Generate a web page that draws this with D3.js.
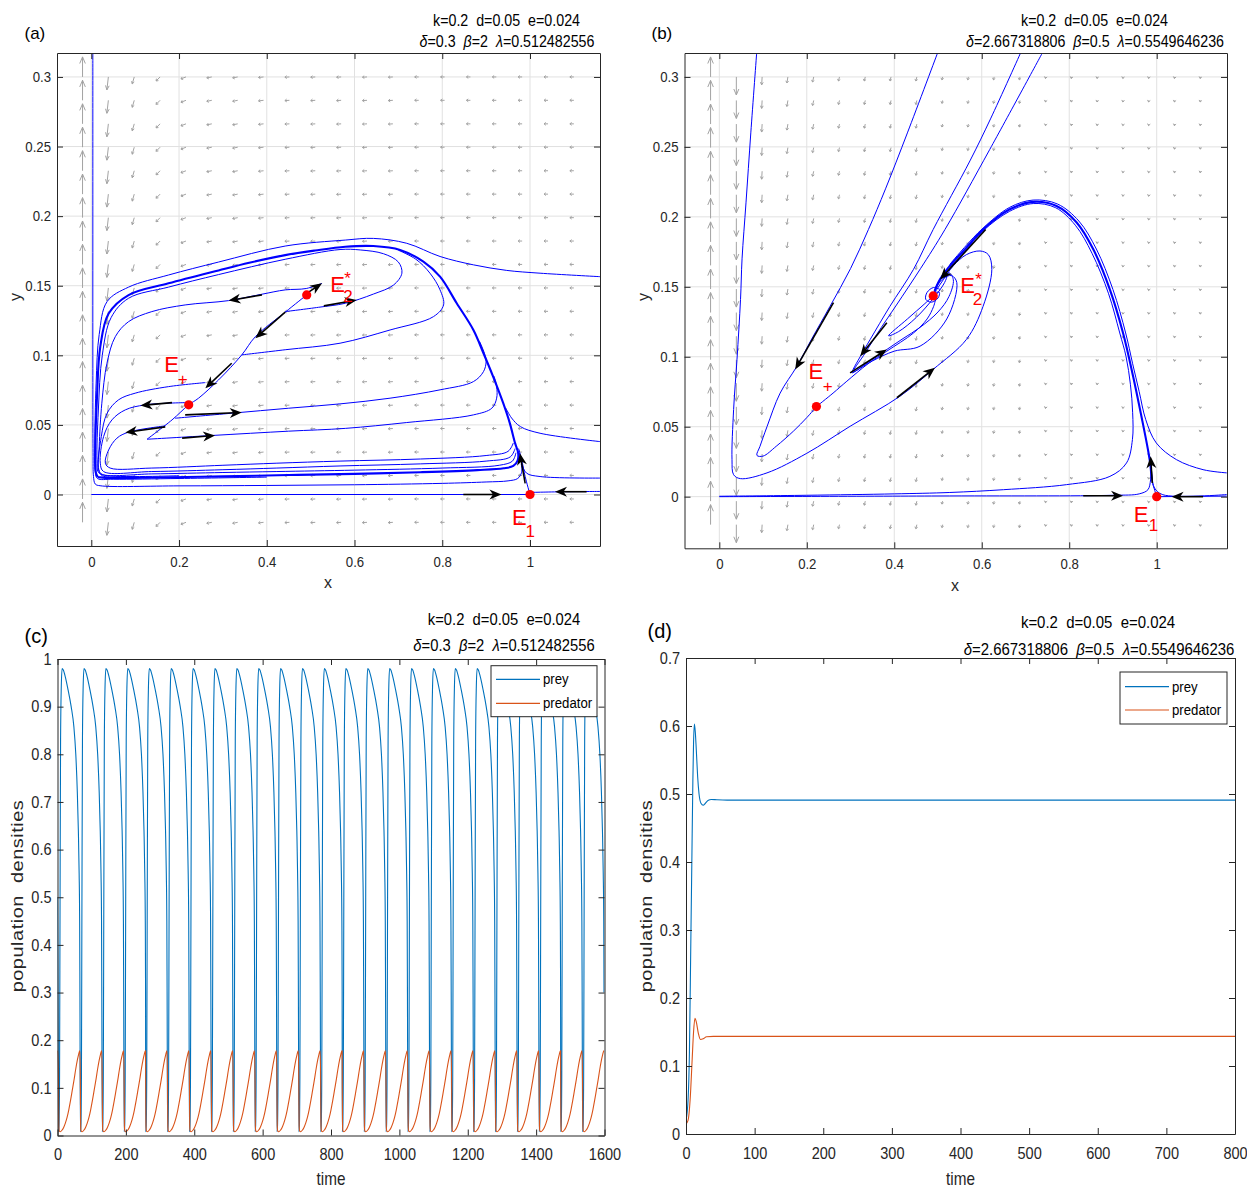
<!DOCTYPE html>
<html><head><meta charset="utf-8">
<script src="https://cdn.jsdelivr.net/npm/d3@7"></script>
<style>
body{margin:0;background:#fff;}
text{font-family:"Liberation Sans",Arial,Helvetica,sans-serif;}
</style></head><body>
<svg id="chart" width="1247" height="1192"></svg>
<script>
// ================= DATA =================
// phase-plane ticks (panels a, b)
const phaseXTicks = [0, 0.2, 0.4, 0.6, 0.8, 1];
const phaseXTickLabels = ["0", "0.2", "0.4", "0.6", "0.8", "1"];
const phaseYTicks = [0, 0.05, 0.1, 0.15, 0.2, 0.25, 0.3];
const phaseYTickLabels = ["0", "0.05", "0.1", "0.15", "0.2", "0.25", "0.3"];

// direction-field grid
const fieldX = [-0.02, 0.0389, 0.0979, 0.1568, 0.2158, 0.2747, 0.3337, 0.3926, 0.4516, 0.5105, 0.5695, 0.6284, 0.6874, 0.7463, 0.8053, 0.8642, 0.9232, 0.9821, 1.0411, 1.1];
const fieldY = [-0.02, -0.0032, 0.0137, 0.0305, 0.0474, 0.0642, 0.0811, 0.0979, 0.1147, 0.1316, 0.1484, 0.1653, 0.1821, 0.1989, 0.2158, 0.2326, 0.2495, 0.2663, 0.2832, 0.3];
// per-column arrow components (panel a)
const fieldUa = [0, -0.0034, -0.0046, -0.0091, -0.0114, -0.0114, -0.0114, -0.0114, -0.0103, -0.0103, -0.0103, -0.0103, -0.0103, -0.0091, -0.0091, -0.0091, -0.0091, -0.0091, -0.0091, -0.0091];
const fieldVa = [0.0144, -0.0093, -0.005, -0.0029, -0.0014, -0.0007, -0.0007, -0.0004, -0.0002, -0.0002, -0.0002, -0.0002, -0.0002, 0, 0, 0, 0, 0, 0, 0];
// per-column arrow components (panel b)
const fieldUb = [0, 0, -0.0011, -0.0023, -0.0027, -0.0023, -0.0023, -0.0023, -0.0023, -0.0016, -0.0016, -0.0016, -0.0016, -0.0007, -0.0007, -0.0007, -0.0007, -0.0007, -0.0007, -0.0007];
const fieldVb = [0.0143, -0.0129, -0.0057, -0.0043, -0.0036, -0.0029, -0.0029, -0.0029, -0.0029, -0.0021, -0.0021, -0.0021, -0.0021, -0.0011, -0.0011, -0.0011, -0.0011, -0.0011, -0.0011, -0.0011];

// equilibria
const eqPlus = [0.222, 0.0644];
const eqStar = [0.491, 0.1434];
const eqStarB = [0.489, 0.1435];
const eqOne = [1, 0];

// ---- panel (a) trajectories ----
const aAxisLine = [[0, 0], [1, 0]];
const aRightIn = [[1.16, 0.0022], [1.08, 0.002], [1.0, 0.0015]];
const aLeftEdge = [[0.0035, 0.3172], [0.0035, 0.2], [0.0035, 0.1], [0.004, 0.03], [0.005, 0.013], [0.009, 0.0075], [0.02, 0.0063], [0.2, 0.0062], [0.4, 0.0065], [0.6, 0.007], [0.8, 0.008], [0.9, 0.009], [0.95, 0.0098], [0.972, 0.0115], [0.981, 0.016], [0.98, 0.022]];
const aCycle = [[0.015, 0.0125], [0.047, 0.0118], [0.15, 0.0122], [0.3, 0.013], [0.45, 0.014], [0.6, 0.0148], [0.75, 0.016], [0.88, 0.0175], [0.94, 0.0188], [0.962, 0.0205], [0.972, 0.0245], [0.973, 0.03], [0.966, 0.0369], [0.954, 0.0513], [0.939, 0.0656], [0.916, 0.0847], [0.894, 0.1015], [0.871, 0.1182], [0.833, 0.1374], [0.795, 0.1565], [0.757, 0.1673], [0.704, 0.1757], [0.643, 0.1785], [0.579, 0.178], [0.51, 0.1753], [0.442, 0.172], [0.36, 0.1665], [0.29, 0.161], [0.176, 0.1517], [0.085, 0.1433], [0.0395, 0.13], [0.0205, 0.1062], [0.013, 0.0703], [0.009, 0.0225], [0.011, 0.015], [0.015, 0.0125]];
const aOuter = [[1.16, 0.1565], [1.023, 0.159], [0.947, 0.161], [0.871, 0.165], [0.795, 0.171], [0.719, 0.1805], [0.643, 0.184], [0.579, 0.1828], [0.442, 0.1785], [0.29, 0.167], [0.176, 0.1577], [0.085, 0.149], [0.036, 0.1386], [0.018, 0.115], [0.011, 0.08], [0.008, 0.035], [0.009, 0.016], [0.014, 0.0115], [0.05, 0.011], [0.2, 0.0115], [0.4, 0.0125]];
const aD = [[0.442, 0.1314], [0.518, 0.1345], [0.579, 0.1374], [0.643, 0.144], [0.689, 0.1505], [0.708, 0.159], [0.7, 0.167], [0.666, 0.173], [0.613, 0.1757], [0.567, 0.176], [0.442, 0.169], [0.29, 0.158], [0.176, 0.149], [0.085, 0.141], [0.045, 0.127], [0.025, 0.1], [0.016, 0.06], [0.013, 0.025], [0.016, 0.016], [0.03, 0.0138], [0.2, 0.0135]];
const aE = [[0.343, 0.1003], [0.442, 0.104], [0.567, 0.1087], [0.681, 0.1182], [0.78, 0.1278], [0.803, 0.1362], [0.795, 0.147], [0.772, 0.159], [0.74, 0.169], [0.7, 0.1755]];
const aF = [[0.191, 0.0548], [0.32, 0.0584], [0.45, 0.062], [0.567, 0.0651], [0.681, 0.0692], [0.795, 0.0752], [0.871, 0.0811], [0.894, 0.0883], [0.9, 0.0955], [0.896, 0.1015], [0.885, 0.11]];
const aG = [[0.127, 0.0397], [0.275, 0.0424], [0.45, 0.0455], [0.579, 0.0475], [0.719, 0.0517], [0.871, 0.0572], [0.913, 0.062], [0.924, 0.0692], [0.924, 0.0775], [0.918, 0.085]];
const aH = [[1.16, 0.038], [1.023, 0.044], [0.978, 0.0488], [0.958, 0.055], [0.945, 0.062]];
const aI = [[1.16, 0.0118], [1.023, 0.0129], [0.992, 0.0154], [0.981, 0.0225], [0.976, 0.03]];
const aJ = [[1.0, 0.0], [0.989, 0.0129], [0.981, 0.025], [0.974, 0.033]];
const aSep = [[0.491, 0.1434], [0.442, 0.131], [0.374, 0.1134], [0.343, 0.1003], [0.29, 0.0823], [0.2445, 0.0692], [0.222, 0.0644], [0.184, 0.0536], [0.127, 0.0397]];
const aM = [[0.1686, 0.0493], [0.085, 0.0448], [0.0585, 0.0405], [0.0395, 0.032], [0.032, 0.0225], [0.043, 0.019], [0.138, 0.019], [0.3, 0.021], [0.423, 0.0225], [0.567, 0.024], [0.75, 0.0255], [0.9, 0.028], [0.95, 0.031], [0.962, 0.037]];
const aN = [[0.215, 0.066], [0.123, 0.0644], [0.0775, 0.0608], [0.047, 0.0536], [0.028, 0.0416], [0.0205, 0.0225], [0.028, 0.0165], [0.138, 0.0165], [0.3, 0.0178], [0.423, 0.019], [0.567, 0.0205], [0.75, 0.022], [0.9, 0.024], [0.955, 0.027], [0.966, 0.033]];
const aP = [[0.26, 0.0804], [0.176, 0.0775], [0.1, 0.0728], [0.062, 0.068], [0.036, 0.0584], [0.0228, 0.0416], [0.0167, 0.0177], [0.025, 0.0145], [0.138, 0.0148], [0.3, 0.0158], [0.423, 0.0165], [0.6, 0.0175], [0.8, 0.019], [0.93, 0.021], [0.96, 0.024], [0.968, 0.03]];
const aQ = [[0.526, 0.1517], [0.49, 0.148], [0.442, 0.147], [0.389, 0.1439], [0.313, 0.1393], [0.214, 0.1362], [0.138, 0.1314], [0.085, 0.1242], [0.0547, 0.1134], [0.0357, 0.0943], [0.024, 0.0656], [0.018, 0.0345], [0.017, 0.018], [0.025, 0.0135], [0.1, 0.0132]];
// direction arrows (tail x, tail y, tip x, tip y)
const aArrows = [
  [0.389, 0.1434, 0.313, 0.1393], [0.491, 0.1445, 0.526, 0.1517], [0.53, 0.1355, 0.605, 0.1397],
  [0.442, 0.131, 0.374, 0.1123], [0.32, 0.0943, 0.26, 0.0764], [0.184, 0.066, 0.112, 0.0639],
  [0.214, 0.0572, 0.343, 0.0589], [0.1686, 0.0486, 0.0775, 0.0445], [0.207, 0.0405, 0.282, 0.0424],
  [0.848, 0, 0.935, 0], [1.129, 0.002, 1.057, 0.002], [0.989, 0.008, 0.977, 0.0297]
];

// ---- panel (b) trajectories ----
const bB1 = [[0.0856, 0.318], [0.072, 0.26], [0.061, 0.21], [0.052, 0.17], [0.0485, 0.141], [0.0404, 0.098], [0.0327, 0.0623], [0.029, 0.0265], [0.0327, 0.0157], [0.048, 0.0129], [0.109, 0.017], [0.2, 0.031], [0.299, 0.0503], [0.413, 0.0718], [0.489, 0.091], [0.565, 0.1124], [0.603, 0.136], [0.623, 0.1625], [0.615, 0.173], [0.596, 0.1756], [0.565, 0.173], [0.535, 0.165], [0.512, 0.155], [0.497, 0.148], [0.489, 0.1435]];
const bB2 = [[0.5, 0.318], [0.43, 0.26], [0.38, 0.22], [0.341, 0.191], [0.3, 0.163], [0.253, 0.136], [0.21, 0.112], [0.177, 0.093], [0.139, 0.074], [0.109, 0.05], [0.093, 0.036], [0.086, 0.0295], [0.1, 0.029], [0.13, 0.036], [0.17, 0.047], [0.2, 0.0565], [0.222, 0.0644]];
const bB3a = [[0.69, 0.318], [0.62, 0.27], [0.573, 0.24], [0.489, 0.191], [0.444, 0.1625], [0.39, 0.136], [0.345, 0.1124], [0.322, 0.1], [0.306, 0.091], [0.303, 0.0885], [0.34, 0.096], [0.383, 0.1052], [0.42, 0.113], [0.459, 0.121], [0.5, 0.132], [0.525, 0.143], [0.535, 0.155], [0.525, 0.16], [0.505, 0.155], [0.489, 0.1435]];
const bB3b = [[0.74, 0.318], [0.618, 0.248], [0.516, 0.191], [0.46, 0.163], [0.405, 0.137], [0.36, 0.116], [0.33, 0.101], [0.31, 0.092], [0.305, 0.089], [0.35, 0.097], [0.4, 0.104], [0.459, 0.1076], [0.52, 0.127], [0.543, 0.153], [0.531, 0.158], [0.512, 0.156], [0.497, 0.15], [0.489, 0.1435]];
const bB4 = [[0.222, 0.0644], [0.26, 0.074], [0.2915, 0.0825], [0.34, 0.095], [0.383, 0.104], [0.444, 0.117], [0.475, 0.127], [0.49, 0.136], [0.495, 0.142]];
const bB5 = [[0.489, 0.1435], [0.47, 0.138], [0.43, 0.127], [0.387, 0.115], [0.41, 0.118], [0.45, 0.128], [0.49, 0.142], [0.515, 0.153], [0.52, 0.158], [0.51, 0.157], [0.495, 0.15]];
const bSpiral = [[0.505, 0.148], [0.49, 0.1495], [0.475, 0.146], [0.472, 0.141], [0.485, 0.139], [0.5, 0.142], [0.503, 0.146], [0.49, 0.1455], [0.48, 0.143], [0.489, 0.1435]];
const bArch = [[0.988, 0.0122], [0.986, 0.0217], [0.98, 0.0336], [0.965, 0.0575], [0.946, 0.0861], [0.923, 0.117], [0.893, 0.148], [0.855, 0.1768], [0.817, 0.196], [0.771, 0.2078], [0.7176, 0.2107], [0.664, 0.2054], [0.603, 0.191], [0.565, 0.178], [0.527, 0.165], [0.5046, 0.1553], [0.492, 0.147]];
const bArchLeft = [[0, 0.0003], [0.2, 0.001], [0.4, 0.002], [0.527, 0.003], [0.65, 0.005], [0.794, 0.0086], [0.893, 0.0145], [0.931, 0.0241], [0.9445, 0.0408], [0.945, 0.06], [0.94, 0.08], [0.93, 0.1], [0.9155, 0.117], [0.89, 0.145], [0.852, 0.174], [0.814, 0.194], [0.769, 0.2065], [0.7176, 0.2095], [0.664, 0.204], [0.603, 0.19], [0.56, 0.175], [0.527, 0.164]];
const bArchRight = [[1.16, 0.017], [1.106, 0.0193], [1.045, 0.0265], [0.999, 0.0384], [0.975, 0.055], [0.96, 0.075], [0.945, 0.095], [0.929, 0.117], [0.9, 0.148], [0.862, 0.177], [0.822, 0.197], [0.773, 0.2092], [0.7176, 0.212], [0.664, 0.2068], [0.603, 0.192], [0.56, 0.178], [0.527, 0.166]];
const bBottom = [[0, 0], [0.5, 0.0005], [0.9, 0.001], [0.96, 0.002], [0.98, 0.005], [0.986, 0.012], [0.988, 0.02]];
const bRightIn = [[1.16, 0.0015], [1.014, 0.0014], [0.995, 0.0062], [0.989, 0.0145], [0.987, 0.022]];
const bRightAxis = [[1.16, 0.0004], [1.0, 0]];
const bE1Up = [[1.0, 0], [0.992, 0.008], [0.988, 0.0122]];
const bArrows = [
  [0.261, 0.1387, 0.1735, 0.0909], [0.383, 0.1243, 0.322, 0.1004], [0.299, 0.0885, 0.383, 0.1052],
  [0.406, 0.0707, 0.493, 0.0921], [0.609, 0.191, 0.5046, 0.1553], [0.99, 0.0098, 0.986, 0.0289],
  [0.832, 0.0007, 0.923, 0.0007], [1.106, 0, 1.034, 0]
];

// parameter annotations
const paramLine1 = [["k=0.2  d=0.05  e=0.024", 0]];
const paramLine2A = [["δ", 1], ["=0.3  ", 0], ["β", 1], ["=2  ", 0], ["λ", 1], ["=0.512482556", 0]];
const paramLine2B = [["δ", 1], ["=2.667318806  ", 0], ["β", 1], ["=0.5  ", 0], ["λ", 1], ["=0.5549646236", 0]];

// ---- panel (c) time series ----
const timeTicksC = [0, 200, 400, 600, 800, 1000, 1200, 1400, 1600];
const densTicksC = [0, 0.1, 0.2, 0.3, 0.4, 0.5, 0.6, 0.7, 0.8, 0.9, 1];
const densLabelsC = ["0", "0.1", "0.2", "0.3", "0.4", "0.5", "0.6", "0.7", "0.8", "0.9", "1"];
const crashTimesC = [3, 67, 131, 195, 258, 322, 386, 450, 514, 578, 642, 706, 770, 833, 897, 961, 1025, 1089, 1153, 1217, 1281, 1345, 1409, 1472, 1536];
const preyCycleC = [[0, 0.008], [1.5, 0.02], [3, 0.12], [4.5, 0.5], [6, 0.83], [8, 0.94], [10.5, 0.98], [14, 0.977], [20, 0.962], [28, 0.935], [37, 0.9], [45, 0.857], [50.5, 0.8], [55, 0.72], [58, 0.64], [60.3, 0.55], [61.8, 0.45], [62.6, 0.3]];
const predCycleC = [[0, 0.1], [0.8, 0.02], [2, 0.01], [5, 0.008], [10, 0.011], [15, 0.017], [20, 0.026], [25, 0.038], [30, 0.054], [35, 0.073], [40, 0.094], [45, 0.115], [50, 0.138], [55, 0.158], [59, 0.171], [61, 0.176], [62.6, 0.178]];
const preyStartC = [[0, 0.5], [1.5, 0.25]];
const predStartC = [[0, 0.178], [1.5, 0.16]];

// ---- panel (d) time series ----
const timeTicksD = [0, 100, 200, 300, 400, 500, 600, 700, 800];
const densTicksD = [0, 0.1, 0.2, 0.3, 0.4, 0.5, 0.6, 0.7];
const densLabelsD = ["0", "0.1", "0.2", "0.3", "0.4", "0.5", "0.6", "0.7"];
const preyD = [[0, 0.02], [3, 0.05], [5, 0.12], [7, 0.28], [8.5, 0.4], [10, 0.52], [11, 0.575], [12.2, 0.603], [13.5, 0.592], [15, 0.565], [17, 0.525], [19, 0.5], [22, 0.486], [25, 0.4835], [28, 0.486], [32, 0.4905], [37, 0.492], [45, 0.4915], [60, 0.491], [100, 0.491], [200, 0.491], [400, 0.491], [600, 0.491], [800, 0.491]];
const predD = [[0, 0.015], [3, 0.02], [6, 0.05], [9, 0.11], [11, 0.15], [13, 0.17], [15, 0.165], [18, 0.148], [21, 0.139], [25, 0.14], [30, 0.143], [40, 0.1435], [100, 0.1435], [400, 0.1435], [800, 0.1435]];

const seriesNames = ["prey", "predator"];

// ================= DRAWING =================
const svg = d3.select("#chart");
svg.append("rect").attr("width", 1247).attr("height", 1192).attr("fill", "#fff");
const defs = svg.append("defs");
const AX = "#262626";
const BLUE = "#0000ff";
const PREY = "#0072BD", PRED = "#D95319";

function addClip(id, L, R, T, B) {
  defs.append("clipPath").attr("id", id).append("rect")
    .attr("x", L).attr("y", T).attr("width", R - L).attr("height", B - T);
}
function squeeze(sel, sx) {
  sel.each(function () {
    const t = d3.select(this);
    const xx = +(t.attr("x") || 0);
    t.attr("x", xx / sx).attr("transform", `scale(${sx},1)`);
  });
}
function drawBox(g, x, y, L, R, T, B, xt, xl, yt, yl, fs, sx, padX, padY, tk) {
  const fx = d => xl[xt.indexOf(d)];
  const fy = d => yl[yt.indexOf(d)];
  const parts = [
    g.append("g").attr("transform", `translate(0,${B})`).call(d3.axisBottom(x).tickValues(xt).tickFormat(fx).tickSizeInner(-tk).tickSizeOuter(0).tickPadding(padX)),
    g.append("g").attr("transform", `translate(${L},0)`).call(d3.axisLeft(y).tickValues(yt).tickFormat(fy).tickSizeInner(-tk).tickSizeOuter(0).tickPadding(padY)),
    g.append("g").attr("transform", `translate(0,${T})`).call(d3.axisTop(x).tickValues(xt).tickFormat("").tickSizeInner(-tk).tickSizeOuter(0)),
    g.append("g").attr("transform", `translate(${R},0)`).call(d3.axisRight(y).tickValues(yt).tickFormat("").tickSizeInner(-tk).tickSizeOuter(0))
  ];
  parts.forEach(p => {
    p.select(".domain").attr("stroke", AX).attr("stroke-width", 1);
    p.selectAll(".tick line").attr("stroke", AX);
    const tx = p.selectAll(".tick text").attr("fill", AX).attr("font-size", fs)
      .attr("font-family", '"Liberation Sans", Arial, sans-serif');
    squeeze(tx, sx);
  });
}
function headPath(x1, y1, x2, y2, len, hw, notch) {
  const dx = x2 - x1, dy = y2 - y1, d = Math.hypot(dx, dy), ux = dx / d, uy = dy / d, px = -uy, py = ux;
  const bx = x2 - ux * len, by = y2 - uy * len;
  return `M${x2},${y2}L${bx + px * hw},${by + py * hw}L${x2 - ux * (len - notch)},${y2 - uy * (len - notch)}L${bx - px * hw},${by - py * hw}Z`;
}
function textAt(x, y, str, fs, opts = {}) {
  const t = svg.append("text").attr("x", x).attr("y", y).attr("font-size", fs).text(str)
    .attr("fill", opts.fill || "#000");
  if (opts.anchor) t.attr("text-anchor", opts.anchor);
  if (opts.transform) t.attr("transform", opts.transform).attr("x", 0).attr("y", 0);
  return t;
}
function paramText(cx, base, segs, fs, sx) {
  const t = svg.append("text").attr("transform", `translate(${cx},${base}) scale(${sx},1)`)
    .attr("text-anchor", "middle").attr("font-size", fs).attr("fill", "#000").style("white-space", "pre");
  segs.forEach(s => { const ts = t.append("tspan").text(s[0]); if (s[1]) ts.attr("font-style", "italic"); });
}

function quiver(g, x, y, U, V) {
  const p = [];
  fieldX.forEach((fx, i) => fieldY.forEach(fy => {
    const x0 = x(fx), y0 = y(fy), x1 = x(fx + U[i]), y1 = y(fy + V[i]);
    const dx = x1 - x0, dy = y1 - y0, len = Math.hypot(dx, dy);
    if (len < 0.5) { p.push(`M${x0 - 0.5},${y0}h1`); return; }
    const ux = dx / len, uy = dy / len, hl = Math.max(len * 0.33, 1.8), hw = Math.max(len * 0.14, 1.4);
    p.push(`M${x0},${y0}L${x1},${y1}M${x1 - ux * hl - uy * hw},${y1 - uy * hl + ux * hw}L${x1},${y1}L${x1 - ux * hl + uy * hw},${y1 - uy * hl - ux * hw}`);
  }));
  g.append("path").attr("d", p.join("")).attr("fill", "none").attr("stroke", "#a3a3a3").attr("stroke-width", 1);
}

function phasePanel(cfg) {
  const { L, R, T, B, xDom, yDom, id } = cfg;
  const x = d3.scaleLinear().domain(xDom).range([L, R]);
  const y = d3.scaleLinear().domain(yDom).range([B, T]);
  addClip(id, L, R, T, B);
  const g = svg.append("g");
  // grid
  g.append("g").selectAll("line").data(phaseXTicks).join("line")
    .attr("x1", d => x(d)).attr("x2", d => x(d)).attr("y1", T).attr("y2", B).attr("stroke", "#e1e1e1");
  g.append("g").selectAll("line").data(phaseYTicks).join("line")
    .attr("x1", L).attr("x2", R).attr("y1", d => y(d)).attr("y2", d => y(d)).attr("stroke", "#e1e1e1");
  const cg = g.append("g").attr("clip-path", `url(#${id})`);
  quiver(cg, x, y, cfg.U, cfg.V);
  const line = d3.line().x(d => x(d[0])).y(d => y(d[1])).curve(d3.curveCatmullRom.alpha(0.5));
  cfg.thin.forEach(tr => cg.append("path").attr("d", line(tr)).attr("fill", "none").attr("stroke", BLUE).attr("stroke-width", 1));
  cfg.thick.forEach(tr => cg.append("path").attr("d", line(tr)).attr("fill", "none").attr("stroke", BLUE).attr("stroke-width", 2.1));
  // black arrows
  cfg.arrows.forEach(a => {
    const x1 = x(a[0]), y1 = y(a[1]), x2 = x(a[2]), y2 = y(a[3]);
    const d = Math.hypot(x2 - x1, y2 - y1), ux = (x2 - x1) / d, uy = (y2 - y1) / d;
    cg.append("line").attr("x1", x1).attr("y1", y1).attr("x2", x2 - ux * 7).attr("y2", y2 - uy * 7)
      .attr("stroke", "#000").attr("stroke-width", 1.6);
    cg.append("path").attr("d", headPath(x1, y1, x2, y2, 12, 5, 3.5)).attr("fill", "#000");
  });
  // equilibria
  cfg.dots.forEach(p => g.append("circle").attr("cx", x(p[0])).attr("cy", y(p[1])).attr("r", 4.6).attr("fill", "#ff0000"));
  (cfg.over || []).forEach(tr => cg.append("path").attr("d", line(tr)).attr("fill", "none").attr("stroke", BLUE).attr("stroke-width", 1));
  drawBox(g, x, y, L, R, T, B, phaseXTicks, phaseXTickLabels, phaseYTicks, phaseYTickLabels, 15, 0.88, 10, 6, 6);
  return { x, y };
}

// ---------- panel (a) ----------
const pa = phasePanel({
  id: "clipA", L: 57, R: 600, T: 53, B: 546, xDom: [-0.0782, 1.1596], yDom: [-0.037, 0.3172],
  U: fieldUa, V: fieldVa,
  thin: [aAxisLine, aRightIn, aLeftEdge, aOuter, aD, aE, aF, aG, aH, aI, aJ, aSep, aM, aN, aP, aQ],
  thick: [aCycle],
  arrows: aArrows,
  dots: [eqPlus, eqStar, eqOne]
});
// ---------- panel (b) ----------
const pb = phasePanel({
  id: "clipB", L: 684.5, R: 1227, T: 53, B: 548.3, xDom: [-0.0796, 1.1607], yDom: [-0.0369, 0.3171],
  U: fieldUb, V: fieldVb,
  thin: [bB1, bB2, bB3a, bB3b, bB4, bB5, bArchLeft, bArchRight, bBottom, bRightIn, bRightAxis, bE1Up],
  thick: [bArch],
  arrows: bArrows,
  dots: [eqPlus, eqStarB, eqOne],
  over: [bSpiral]
});

// equilibrium labels
function eqLabel(p, pt, dxE, dyE, sub, dxS, dyS, sup, dxP, dyP, fsE, fsS) {
  const X = p.x(pt[0]), Y = p.y(pt[1]);
  textAt(X + dxE, Y + dyE, "E", fsE, { fill: "#ff0000" });
  textAt(X + dxS, Y + dyS, sub, fsS, { fill: "#ff0000" });
  if (sup) textAt(X + dxP, Y + dyP, sup, fsS, { fill: "#ff0000" });
}
eqLabel(pa, eqStar, 23.5, -3, "2", 36.5, 7, "*", 37.5, -11, 22, 17);
eqLabel(pa, eqPlus, -24.5, -33, "+", -11, -20, null, 0, 0, 22, 17);
eqLabel(pa, eqOne, -18, 30.5, "1", -4.5, 42.5, null, 0, 0, 22, 17);
eqLabel(pb, eqStarB, 27, -2.5, "2", 39.5, 9, "*", 42, -11, 22, 17);
eqLabel(pb, eqPlus, -8, -28, "+", 6.3, -15, null, 0, 0, 22, 17);
eqLabel(pb, eqOne, -23, 25, "1", -8, 34, null, 0, 0, 22, 17);

// axis labels (a),(b)
textAt(328, 588, "x", 16, { anchor: "middle", fill: AX });
textAt(955, 591, "x", 16, { anchor: "middle", fill: AX });
textAt(0, 0, "y", 16, { anchor: "middle", fill: AX, transform: "translate(21,297) rotate(-90)" });
textAt(0, 0, "y", 16, { anchor: "middle", fill: AX, transform: "translate(649,297) rotate(-90)" });

// panel letters
textAt(24.5, 38.5, "(a)", 17);
textAt(651.5, 38.5, "(b)", 17);
textAt(24.5, 642.5, "(c)", 20);
textAt(647.5, 637.5, "(d)", 20);

// params
paramText(506.5, 25.5, paramLine1, 16.2, 0.88);
paramText(507, 47, paramLine2A, 16.2, 0.88);
paramText(1094.5, 25.5, paramLine1, 16.2, 0.88);
paramText(1095, 47, paramLine2B, 16.2, 0.88);
paramText(504, 625, paramLine1, 16.8, 0.88);
paramText(504, 651, paramLine2A, 16.8, 0.88);
paramText(1098, 628, paramLine1, 17, 0.88);
paramText(1099, 655, paramLine2B, 17, 0.88);

// ---------- time-series panels ----------
function buildCycles(start, crashes, tmpl, tMax) {
  const out = start.slice();
  crashes.forEach(c => tmpl.forEach(p => { if (c + p[0] <= tMax) out.push([c + p[0], p[1]]); }));
  return out;
}
const preyC = buildCycles(preyStartC, crashTimesC, preyCycleC, 1600);
const predC = buildCycles(predStartC, crashTimesC, predCycleC, 1600);

function tsPanel(cfg) {
  const { L, R, T, B, xDom, yDom, id } = cfg;
  const x = d3.scaleLinear().domain(xDom).range([L, R]);
  const y = d3.scaleLinear().domain(yDom).range([B, T]);
  addClip(id, L, R, T, B);
  const g = svg.append("g");
  const cg = g.append("g").attr("clip-path", `url(#${id})`);
  const line = d3.line().x(d => x(d[0])).y(d => y(d[1])).curve(d3.curveMonotoneX);
  cg.append("path").attr("d", line(cfg.prey)).attr("fill", "none").attr("stroke", PREY).attr("stroke-width", 1.1);
  cg.append("path").attr("d", line(cfg.pred)).attr("fill", "none").attr("stroke", PRED).attr("stroke-width", 1.1);
  drawBox(g, x, y, L, R, T, B, cfg.xt, cfg.xt.map(String), cfg.yt, cfg.yl, 16.5, 0.88, 13, 6, 6);
  // legend
  const lg = cfg.leg;
  g.append("rect").attr("x", lg.x).attr("y", lg.y).attr("width", lg.w).attr("height", lg.h)
    .attr("fill", "#fff").attr("stroke", AX).attr("stroke-width", 1);
  [PREY, PRED].forEach((c, i) => {
    const yy = lg.y + lg.r0 + i * lg.dr;
    g.append("line").attr("x1", lg.x + 5).attr("x2", lg.x + 49).attr("y1", yy).attr("y2", yy).attr("stroke", c).attr("stroke-width", 1.2);
    g.append("text").attr("transform", `translate(${lg.x + 52},${yy + 5}) scale(0.88,1)`)
      .attr("font-size", 15).attr("fill", "#000").text(seriesNames[i]);
  });
  // axis labels
  g.append("text").attr("transform", `translate(${(L + R) / 2},1185) scale(0.85,1)`).attr("text-anchor", "middle")
    .attr("font-size", 18).attr("fill", AX).text("time");
  g.append("text").attr("transform", `translate(${cfg.ylabX},896) rotate(-90) scale(1,0.85)`).attr("text-anchor", "middle")
    .attr("font-size", 20).attr("letter-spacing", 0.5).attr("fill", AX).style("white-space", "pre").text("population  densities");
}
tsPanel({
  id: "clipC", L: 57.5, R: 604.5, T: 659, B: 1135.5, xDom: [0, 1600], yDom: [0, 1],
  prey: preyC, pred: predC, xt: timeTicksC, yt: densTicksC, yl: densLabelsC,
  leg: { x: 491, y: 665.7, w: 106, h: 51, r0: 13.6, dr: 24 }, ylabX: 22.5
});
tsPanel({
  id: "clipD", L: 686, R: 1235, T: 658, B: 1134, xDom: [0, 800], yDom: [0, 0.7],
  prey: preyD, pred: predD, xt: timeTicksD, yt: densTicksD, yl: densLabelsD,
  leg: { x: 1120, y: 672, w: 107, h: 52, r0: 14.7, dr: 23.3 }, ylabX: 651.5
});
</script>
</body></html>
